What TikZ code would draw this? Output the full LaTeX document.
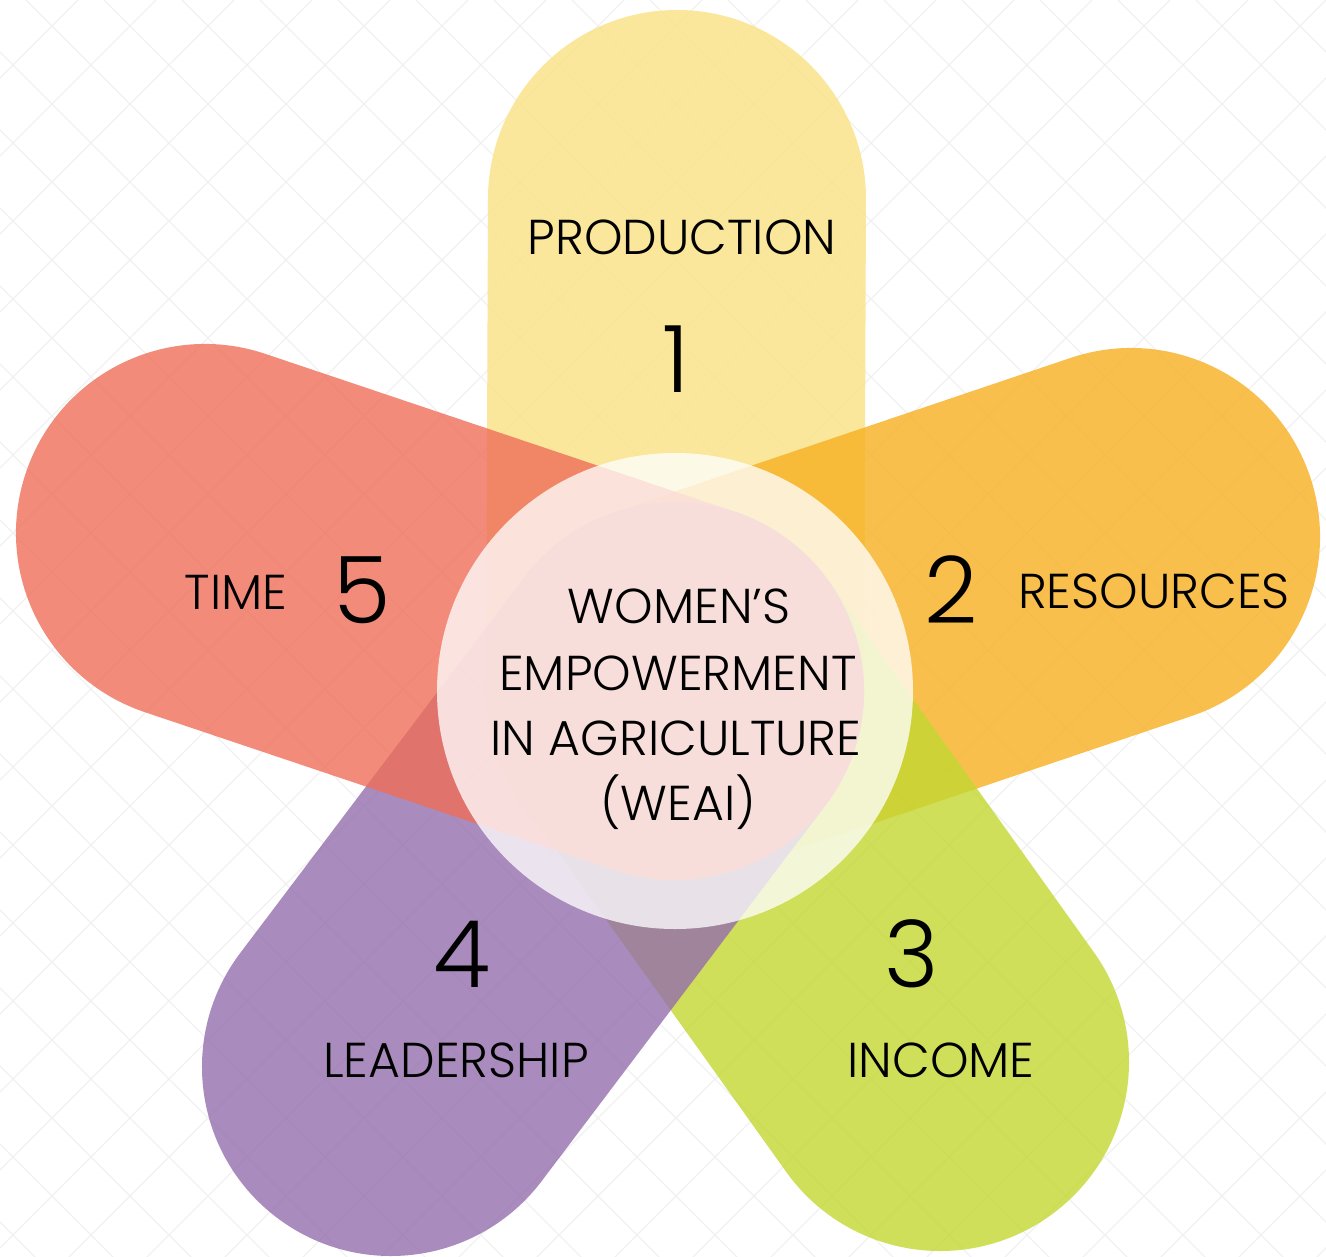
\documentclass[tikz,border=0pt]{standalone}
\usepackage{fontspec}
\IfFontExistsTF{Poppins Light}{\setmainfont{Poppins Light}}{\setmainfont{Poppins}}
\definecolor{cyel}{RGB}{249,226,130}
\definecolor{cora}{RGB}{248,175,33}
\definecolor{cgrn}{RGB}{195,215,49}
\definecolor{cpur}{RGB}{148,110,173}
\definecolor{cred}{RGB}{239,110,89}
\definecolor{cpat}{RGB}{241,241,241}
\begin{document}
\begin{tikzpicture}[x=1pt,y=-1pt,
  petal/.style={line width=378pt, line cap=round, draw=#1, draw opacity=0.8},
  lbl/.style={anchor=base, inner sep=0pt, font=\fontsize{49}{66}\selectfont, text=black},
  num/.style={anchor=base, inner sep=0pt, font=\fontsize{93}{100}\selectfont, text=black}]
\useasboundingbox (0,0) rectangle (1326,1257);
\fill[white] (0,0) rectangle (1326,1257);
\begin{scope}
  \clip (0,0) rectangle (1326,1257);
  \foreach \k in {0,78,...,2700}{
    \draw[cpat, line width=1.3pt] (\k,0) -- ++(-1300,1300);
    \draw[cpat, line width=1.3pt] ({\k-1300},0) -- ++(1300,1300);
  }
\end{scope}
% petal geometry
\coordinate (c) at (675,691);
\coordinate (p1) at (677,199);
\coordinate (p2) at (1131,537);
\coordinate (p3) at (940,1062);
\coordinate (p4) at (391,1067);
\coordinate (p5) at (205,533);
\draw[petal=cyel] (c) -- (p1);
\draw[petal=cora] (c) -- (p2);
\draw[petal=cgrn] (c) -- (p3);
\draw[petal=cpur] (c) -- (p4);
\draw[petal=cred] (c) -- (p5);
% hub
\node[circle, minimum size=476pt, inner sep=0pt, fill=white, fill opacity=0.77] (hub) at (c) {};
\node[lbl] (w1) at (679,623) {WOMEN’S};
\node[lbl] (w2) at (678,690) {EMPOWERMENT};
\node[lbl] (w3) at (676,755) {IN AGRICULTURE};
\node[lbl] (w4) at (678,820) {(WEAI)};
% labels
\node[lbl] (t1) at (682,255) {PRODUCTION};
\node[num] (n1) at (676,392) {1};
\node[lbl] (t2) at (1154,608) {RESOURCES};
\node[num] (n2) at (951,623) {2};
\node[lbl] (t3) at (941,1077) {INCOME};
\node[num] (n3) at (912,987) {3};
\node[lbl] (t4) at (456,1077) {LEADERSHIP};
\node[num] (n4) at (462,987) {4};
\node[lbl] (t5) at (236,609) {TIME};
\node[num] (n5) at (362,623) {5};
\end{tikzpicture}
\end{document}
